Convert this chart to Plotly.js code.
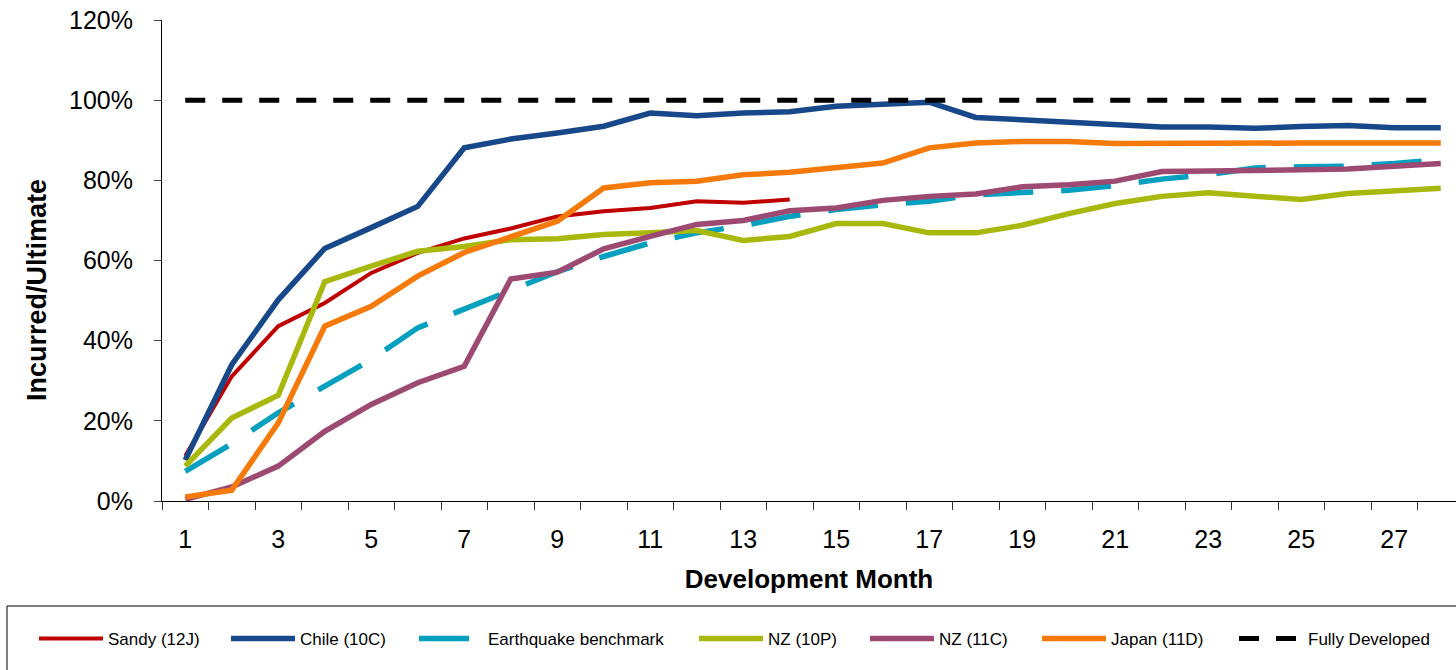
<!DOCTYPE html>
<html>
<head>
<meta charset="utf-8">
<script src="https://cdn.plot.ly/plotly-3.0.1.min.js"></script>
<style>html,body{margin:0;padding:0;background:#fff;}#chart{width:1456px;height:670px;}</style>
</head>
<body>
<div id="chart"></div>
<script>
const months = [1,2,3,4,5,6,7,8,9,10,11,12,13,14,15,16,17,18,19,20,21,22,23,24,25,26,27,28];
const xTickVals = [1,3,5,7,9,11,13,15,17,19,21,23,25,27];
const xTickText = ["1","3","5","7","9","11","13","15","17","19","21","23","25","27"];
const yTickVals = [0,20,40,60,80,100,120];
const yTickText = ["0%","20%","40%","60%","80%","100%","120%"];

const sandy = [11.2,31.1,43.6,49.4,56.9,61.9,65.5,68.0,71.0,72.3,73.1,74.8,74.4,75.2];
const chile = [10.2,34.0,50.2,63.0,68.2,73.5,88.1,90.3,91.8,93.5,96.8,96.1,96.8,97.1,98.5,99.0,99.5,95.7,95.1,94.5,93.6,93.3,93.3,93.0,93.4,93.7,93.1,93.1];
const benchmark = [7.4,14.3,22.0,28.6,35.3,43.2,47.8,52.3,57.2,61.0,64.4,66.9,68.7,71.0,72.7,73.9,74.8,76.4,76.9,77.5,78.7,80.3,81.4,83.1,83.4,83.5,84.2,85.2];
const nz10p = [8.7,20.7,26.4,54.7,58.6,62.3,63.5,65.2,65.4,66.5,66.9,67.5,65.0,66.0,69.2,69.2,66.9,66.9,68.8,71.7,74.2,76.0,76.9,76.0,75.2,76.7,77.3,78.0];
const nz11c = [0.4,3.5,8.7,17.4,24.1,29.5,33.6,55.4,57.1,62.9,66.0,69.0,70.0,72.4,73.1,75.0,76.0,76.6,78.4,78.9,79.8,82.2,82.3,82.5,82.7,82.8,83.5,84.2];
const japan = [1.0,2.7,19.5,43.6,48.6,56.1,62.0,66.0,69.8,78.1,79.4,79.8,81.4,82.0,83.1,84.3,88.1,89.3,89.7,89.7,89.2,89.3,89.3,89.3,89.3,89.3,89.3,89.3];
const fullyDeveloped = months.map(() => 100);

const FONT = "Arial, 'Liberation Sans', sans-serif";

const legendIds = ["legend", "legend2", "legend3", "legend4", "legend5", "legend6", "legend7"];
const legendLeftPx = [34, 226, 414, 694, 865, 1037, 1234];

const traces = [
  {x: months.slice(0, sandy.length), y: sandy, name: "Sandy (12J)", line: {color: "#C00000", width: 4}},
  {x: months, y: chile, name: "Chile (10C)", line: {color: "#17488A", width: 5.5}},
  {x: months, y: benchmark, name: "Earthquake benchmark", line: {color: "#05A0C0", width: 5.5, dash: "50px,28px"}},
  {x: months, y: nz10p, name: "NZ (10P)", line: {color: "#A9B80C", width: 5.5}},
  {x: months, y: nz11c, name: "NZ (11C)", line: {color: "#9D4A72", width: 5.5}},
  {x: months, y: japan, name: "Japan (11D)", line: {color: "#F57A0A", width: 5.5}},
  {x: months, y: fullyDeveloped, name: "Fully Developed", line: {color: "#000000", width: 5, dash: "20px,17px"}}
].map((t, i) => Object.assign({type: "scatter", mode: "lines", hoverinfo: "x+y+name", legend: legendIds[i]}, t));

const L = 162, W = 1294, T = 20, H = 481;
const px = v => (v - L) / W;
const py = v => (T + H - v) / H;

const layout = {
  width: 1456, height: 670,
  margin: {l: L, r: 0, t: T, b: 670 - T - H, pad: 0},
  paper_bgcolor: "#fff", plot_bgcolor: "#fff",
  font: {family: FONT, color: "#000"},
  showlegend: true,
  xaxis: {
    range: [0.5, 0.5 + W / 46.5],
    tickmode: "array", tickvals: xTickVals, ticktext: xTickText,
    ticks: "outside", ticklen: 8, tickcolor: "rgba(0,0,0,0)",
    minor: {tick0: 0.5, dtick: 1, ticks: "outside", ticklen: 8, tickwidth: 1, tickcolor: "#333"},
    ticklabelstandoff: 8,
    tickfont: {size: 25, family: FONT, color: "#000"},
    showline: true, linecolor: "#000", linewidth: 1,
    showgrid: false, zeroline: false,
    title: {text: "Development Month", font: {size: 26, family: FONT, weight: "bold", color: "#000"}, standoff: 17}
  },
  yaxis: {
    range: [0, 120],
    tickmode: "array", tickvals: yTickVals, ticktext: yTickText,
    ticks: "outside", ticklen: 7, tickcolor: "#444", tickwidth: 1,
    ticklabelstandoff: 16,
    tickfont: {size: 25, family: FONT, color: "#000"},
    showline: true, linecolor: "#000", linewidth: 1,
    showgrid: false, zeroline: false
  },
  shapes: [{
    type: "rect", xref: "paper", yref: "paper",
    x0: px(7), x1: px(1470), y0: py(606), y1: py(690),
    line: {color: "#000", width: 1}, fillcolor: "rgba(0,0,0,0)", layer: "below"
  }],
  annotations: [{
    text: "Incurred/Ultimate", textangle: -90,
    xref: "paper", yref: "paper", x: px(37), y: py(290),
    xanchor: "center", yanchor: "middle", showarrow: false,
    font: {size: 27, family: FONT, weight: "bold", color: "#000"}
  }]
};

legendIds.forEach((id, i) => {
  layout[id] = {
    orientation: "h",
    x: px(legendLeftPx[i]), xanchor: "left",
    y: py(639), yanchor: "middle",
    font: {size: 17, family: FONT, color: "#000"},
    itemwidth: 64,
    bgcolor: "rgba(0,0,0,0)", borderwidth: 0
  };
});

Plotly.newPlot("chart", traces, layout, {displayModeBar: false, responsive: false});
</script>
</body>
</html>
